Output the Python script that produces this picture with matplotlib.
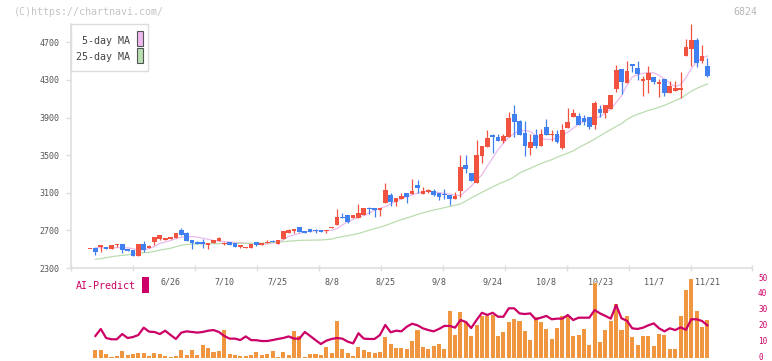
import matplotlib
matplotlib.use("Agg")
import matplotlib.pyplot as plt
from matplotlib.patches import Rectangle
from matplotlib.transforms import ScaledTranslation
import numpy as np

# daily candles (index 0..115)
opens = [2500, 2516, 2523, 2526, 2505, 2541, 2555, 2505, 2491, 2431,
         2555, 2516, 2580, 2608, 2601, 2612, 2622, 2704, 2675, 2598,
         2580, 2580, 2548, 2569, 2590, 2552, 2573, 2569, 2523, 2516,
         2516, 2573, 2545, 2562, 2591, 2559, 2612, 2676, 2693, 2736,
         2693, 2715, 2704, 2704, 2690, 2729, 2757, 2842, 2862, 2835,
         2832, 2867, 2942, 2938, 2917, 2994, 3076, 3005, 3033, 3097,
         3087, 3183, 3087, 3112, 3119, 3097, 3087, 3076, 3037, 3122,
         3395, 3310, 3204, 3494, 3590, 3714, 3693, 3653, 3696, 3937,
         3866, 3735, 3576, 3714, 3597, 3799, 3714, 3725, 3576, 3788,
         3905, 3916, 3895, 3905, 3820, 3990, 3948, 3990, 4203, 4416,
         4267, 4469, 4426, 4288, 4299, 4331, 4256, 4309, 4161, 4182,
         4192, 4554, 4628, 4724, 4501, 4448]
closes = [2502, 2473, 2545, 2505, 2541, 2555, 2495, 2484, 2431, 2555,
          2495, 2534, 2630, 2651, 2622, 2633, 2672, 2648, 2590, 2569,
          2552, 2552, 2566, 2598, 2616, 2569, 2545, 2526, 2541, 2526,
          2555, 2541, 2562, 2580, 2573, 2598, 2693, 2704, 2715, 2683,
          2672, 2686, 2690, 2686, 2704, 2739, 2842, 2831, 2789, 2864,
          2885, 2938, 2931, 2920, 2938, 3129, 3002, 3044, 3065, 3055,
          3119, 3150, 3122, 3126, 3080, 3052, 3072, 3037, 3065, 3374,
          3356, 3225, 3501, 3597, 3682, 3696, 3653, 3703, 3898, 3856,
          3714, 3597, 3640, 3597, 3725, 3714, 3725, 3640, 3767, 3852,
          3948, 3820, 3852, 3799, 4054, 3948, 4033, 4139, 4405, 4277,
          4394, 4448, 4362, 4309, 4373, 4277, 4277, 4161, 4235, 4213,
          4213, 4650, 4724, 4480, 4554, 4341]
highs = [2505, 2516, 2548, 2526, 2541, 2558, 2555, 2505, 2491, 2555,
         2587, 2545, 2630, 2655, 2622, 2633, 2672, 2728, 2686, 2598,
         2590, 2608, 2566, 2598, 2626, 2580, 2573, 2569, 2545, 2526,
         2555, 2573, 2562, 2598, 2598, 2598, 2693, 2715, 2715, 2736,
         2693, 2715, 2715, 2704, 2704, 2739, 2927, 2885, 2862, 2864,
         2980, 2938, 2945, 2938, 2938, 3204, 3097, 3044, 3097, 3097,
         3243, 3236, 3161, 3140, 3140, 3097, 3140, 3076, 3108, 3501,
         3501, 3310, 3661, 3597, 3767, 3730, 3725, 3725, 3958, 4033,
         3873, 3863, 3725, 3778, 3778, 3884, 3767, 3767, 3831, 4001,
         3990, 3948, 3926, 3905, 4075, 4033, 4033, 4139, 4458, 4416,
         4501, 4469, 4501, 4341, 4448, 4331, 4309, 4309, 4288, 4288,
         4384, 4735, 4894, 4745, 4671, 4533]
lows = [2498, 2441, 2473, 2505, 2505, 2522, 2463, 2484, 2431, 2431,
        2470, 2516, 2548, 2600, 2601, 2612, 2622, 2648, 2590, 2499,
        2552, 2516, 2505, 2569, 2590, 2540, 2545, 2526, 2516, 2516,
        2516, 2530, 2545, 2562, 2573, 2559, 2612, 2676, 2676, 2683,
        2672, 2686, 2676, 2686, 2676, 2729, 2757, 2831, 2780, 2835,
        2832, 2867, 2874, 2845, 2850, 2994, 2959, 2962, 3033, 2991,
        3087, 3094, 3087, 3098, 3070, 3018, 3030, 2973, 3037, 3058,
        3313, 3225, 3204, 3416, 3590, 3524, 3653, 3630, 3690, 3696,
        3714, 3491, 3501, 3576, 3597, 3714, 3650, 3630, 3565, 3788,
        3905, 3820, 3820, 3778, 3778, 3905, 3895, 3990, 4171, 4150,
        4267, 4384, 4299, 4129, 4161, 4256, 4118, 4129, 4161, 4182,
        4107, 4554, 4448, 4437, 4480, 4331]

# moving averages, from index 1
ma5 = [2516, 2516, 2516, 2516, 2516, 2516, 2514, 2505, 2492, 2494,
       2506, 2530, 2562, 2577, 2592, 2612, 2628, 2632, 2634, 2628,
       2617, 2605, 2593, 2586, 2581, 2576, 2572, 2568, 2564, 2561,
       2557, 2547, 2557, 2566, 2573, 2600, 2636, 2652, 2668, 2681,
       2693, 2695, 2696, 2698, 2702, 2718, 2758, 2790, 2818, 2838,
       2860, 2885, 2914, 2935, 2953, 2982, 3010, 3036, 3058, 3078,
       3094, 3112, 3116, 3110, 3102, 3094, 3086, 3076, 3068, 3120,
       3170, 3235, 3290, 3385, 3470, 3560, 3625, 3690, 3730, 3760,
       3762, 3752, 3710, 3680, 3668, 3666, 3684, 3708, 3745, 3785,
       3830, 3862, 3888, 3900, 3909, 3950, 3990, 4060, 4130, 4245,
       4330, 4355, 4370, 4378, 4375, 4350, 4310, 4264, 4228, 4250,
       4325, 4420, 4490, 4535, 4554]
ma25 = [2392, 2400, 2410, 2420, 2428, 2434, 2440, 2448, 2458, 2464,
        2466, 2476, 2490, 2500, 2510, 2526, 2542, 2550, 2555, 2556,
        2556, 2557, 2558, 2559, 2560, 2560, 2561, 2562, 2562, 2562,
        2562, 2564, 2568, 2572, 2576, 2580, 2585, 2590, 2594, 2595,
        2596, 2597, 2598, 2602, 2607, 2622, 2634, 2644, 2655, 2666,
        2684, 2702, 2718, 2733, 2752, 2772, 2794, 2815, 2832, 2850,
        2870, 2886, 2902, 2916, 2928, 2942, 2955, 2968, 2982, 3012,
        3045, 3075, 3104, 3135, 3162, 3190, 3215, 3238, 3270, 3310,
        3336, 3360, 3386, 3410, 3432, 3452, 3478, 3500, 3522, 3545,
        3580, 3610, 3638, 3672, 3705, 3740, 3772, 3805, 3835, 3880,
        3910, 3935, 3955, 3975, 3990, 4010, 4030, 4055, 4080, 4105,
        4140, 4180, 4210, 4235, 4256]

# AI-Predict panel, from index 1
ai_bars = [4.8, 4.8, 2.3, 0.5, 1.1, 4.2, 1.7, 2.3, 2.9, 2.9,
           1.1, 2.9, 2.3, 1.1, 0.5, 1.1, 4.8, 1.7, 4.8, 1.7,
           8.0, 6.1, 3.6, 4.2, 17.4, 2.3, 1.7, 1.1, 1.1, 1.7,
           3.6, 1.7, 2.3, 4.2, 0.5, 3.6, 1.7, 16.8, 13.7, 0.5,
           2.3, 2.3, 1.7, 6.7, 2.9, 23.1, 5.5, 2.9, 1.1, 6.7,
           4.8, 3.6, 2.9, 3.6, 13.0, 8.6, 6.1, 6.1, 5.5, 10.5,
           17.4, 6.7, 5.5, 7.3, 8.6, 5.5, 29.4, 14.3, 28.8, 22.5,
           13.7, 20.6, 26.3, 26.3, 26.9, 13.7, 16.2, 22.5, 24.4, 23.1,
           16.8, 11.1, 25.6, 22.5, 18.1, 11.8, 18.7, 26.3, 26.3, 13.7,
           14.3, 18.1, 8.0, 47.1, 9.9, 17.4, 23.1, 33.8, 17.4, 26.3,
           13.0, 8.0, 13.7, 13.7, 7.4, 14.9, 14.3, 5.5, 5.5, 26.3,
           42.6, 49.6, 29.4, 19.3, 23.7]
ai_line = [13.7, 18.1, 12.4, 11.6, 11.6, 14.9, 12.4, 13.0, 14.3, 18.9,
           16.4, 16.2, 14.9, 17.0, 14.3, 11.8, 15.8, 16.6, 16.2, 15.8,
           16.2, 17.0, 17.4, 16.2, 13.7, 12.0, 12.0, 11.1, 13.4, 11.1,
           11.0, 10.5, 10.5, 11.1, 11.8, 12.4, 13.4, 12.0, 12.0, 16.2,
           13.7, 11.1, 8.6, 10.7, 11.8, 12.4, 12.0, 10.1, 9.0, 15.4,
           12.0, 11.8, 11.8, 14.3, 20.6, 16.0, 17.0, 16.6, 19.5, 21.4,
           20.4, 18.5, 17.4, 16.6, 18.1, 20.0, 20.0, 18.9, 23.7, 22.5,
           18.7, 23.7, 28.3, 26.9, 28.3, 25.8, 25.8, 31.1, 31.1, 27.9,
           27.5, 27.9, 24.2, 25.2, 26.3, 24.2, 24.6, 24.6, 26.9, 23.7,
           25.2, 25.2, 25.2, 30.0, 27.9, 26.3, 24.6, 33.2, 24.8, 23.3,
           18.5, 18.1, 18.9, 20.4, 21.6, 18.5, 16.6, 18.5, 17.4, 19.1,
           17.6, 24.2, 24.2, 23.1, 20.4]

date_labels = ["6/26", "7/10", "7/25", "8/8", "8/25", "9/8",
               "9/24", "10/8", "10/23", "11/7", "11/21"]
price_ticks = [2300, 2700, 3100, 3500, 3900, 4300, 4700]
ai_ticks = [0, 10, 20, 30, 40, 50]

UP = "#f25340"
DOWN = "#4080f0"
PINK = "#ebbaeb"
GREEN = "#bcdcb0"
ORANGE = "#f09640"
CRIMSON = "#cc0066"
AXIS = "#dddddd"
TEXT = "#555555"
MONO = "DejaVu Sans Mono"

W, H = 772, 361
fig = plt.figure(figsize=(W / 100, H / 100), dpi=100)

left_px, right_px = 70.7, 752.5
x0, x1 = -3.6, 123.4
ax = fig.add_axes([left_px / W, 1 - 268 / H, (right_px - left_px) / W, (268 - 23.5) / H])
ax.set_xlim(x0, x1)
ax.set_ylim(2300, 4900)

idx = np.arange(len(opens))
for i in idx:
    o, c = opens[i], closes[i]
    col = UP if c >= o else DOWN
    ax.vlines(i, lows[i], highs[i], color=col, lw=0.9, zorder=3)
    body = max(abs(c - o), 10)
    ax.bar(i, body, bottom=min(o, c), width=0.88, color=col, lw=0, zorder=4)

ma_x = np.arange(1, len(ma5) + 1)
ax.plot(ma_x, ma5, color=PINK, lw=0.9, zorder=2)
ax.plot(ma_x, ma25, color=GREEN, lw=0.9, zorder=2)

for s in ["top", "right"]:
    ax.spines[s].set_visible(False)
for s in ["left", "bottom"]:
    ax.spines[s].set_color(AXIS)
    ax.spines[s].set_linewidth(1.1)
ax.set_yticks(price_ticks)
ax.set_yticklabels([str(t) for t in price_ticks], family=MONO)
ax.tick_params(axis="y", direction="out", length=3.6, width=1, color=AXIS,
               pad=4.2, labelsize=6, labelcolor=TEXT)
ax.set_xticks(np.linspace(x0, x1, 12))
ax.set_xticklabels([])
ax.tick_params(axis="x", direction="inout", length=5, width=1, color=AXIS)

label_idx = [15 + 10 * k for k in range(len(date_labels))]
for i, lab in zip(label_idx, date_labels):
    ax.text(i, -0.057, lab, transform=ax.get_xaxis_transform(), ha="center",
            va="center", fontsize=6, family=MONO, color=TEXT)

# lower AI-Predict panel
ax2 = fig.add_axes([left_px / W, 1 - 357.7 / H, (right_px - left_px) / W, (357.7 - 278.3) / H])
ax2.set_xlim(x0, x1)
ax2.set_ylim(0, 50)
ai_x = np.arange(1, len(ai_bars) + 1)
ax2.bar(ai_x, ai_bars, width=0.75, color=ORANGE, lw=0, zorder=2)
ax2.plot(ai_x, ai_line, color=CRIMSON, lw=1.6, zorder=3)
for s in ax2.spines.values():
    s.set_visible(False)
ax2.set_xticks([])
ax2.yaxis.tick_right()
ax2.set_yticks(ai_ticks)
ax2.set_yticklabels([str(t) for t in ai_ticks], family=MONO)
ax2.tick_params(axis="y", length=0, pad=4, labelsize=5.5, labelcolor=CRIMSON)
ax2.patch.set_visible(False)
# nudge the right labels up a little so "0" stays inside the picture
nudge = ScaledTranslation(0, 1.2 / 100, fig.dpi_scale_trans)
for lab in ax2.get_yticklabels():
    lab.set_transform(lab.get_transform() + nudge)

# legend box
fig.add_artist(Rectangle((70.7 / W, 1 - 71 / H), 77.6 / W, 47 / H, transform=fig.transFigure,
                         facecolor="white", edgecolor=AXIS, lw=1, zorder=5))
fig.text(129.5 / W, 1 - 41.5 / H, "5-day MA", ha="right", va="center",
         fontsize=7.2, family=MONO, color="#444444", zorder=6)
fig.text(129.5 / W, 1 - 57 / H, "25-day MA", ha="right", va="center",
         fontsize=7.2, family=MONO, color="#444444", zorder=6)
fig.add_artist(Rectangle((136.7 / W, 1 - 46 / H), 6 / W, 15 / H, transform=fig.transFigure,
                         facecolor="#f0b8f0", edgecolor="#555555", lw=0.8, zorder=6))
fig.add_artist(Rectangle((136.7 / W, 1 - 63 / H), 6 / W, 15 / H, transform=fig.transFigure,
                         facecolor="#b8e0b0", edgecolor="#555555", lw=0.8, zorder=6))

fig.text(14 / W, 1 - 12 / H, "(C)https://chartnavi.com/", ha="left", va="center",
         fontsize=7.2, family=MONO, color="#c4c4c4")
fig.text(757 / W, 1 - 12 / H, "6824", ha="right", va="center",
         fontsize=7.2, family=MONO, color="#b8b8b8")

fig.text(76 / W, 1 - 286 / H, "AI-Predict", ha="left", va="center",
         fontsize=7.2, family=MONO, color=CRIMSON)
fig.add_artist(Rectangle((142 / W, 1 - 293 / H), 7 / W, 16 / H, transform=fig.transFigure,
                         facecolor=CRIMSON, edgecolor="none"))

fig.savefig("out.png", dpi=100)
